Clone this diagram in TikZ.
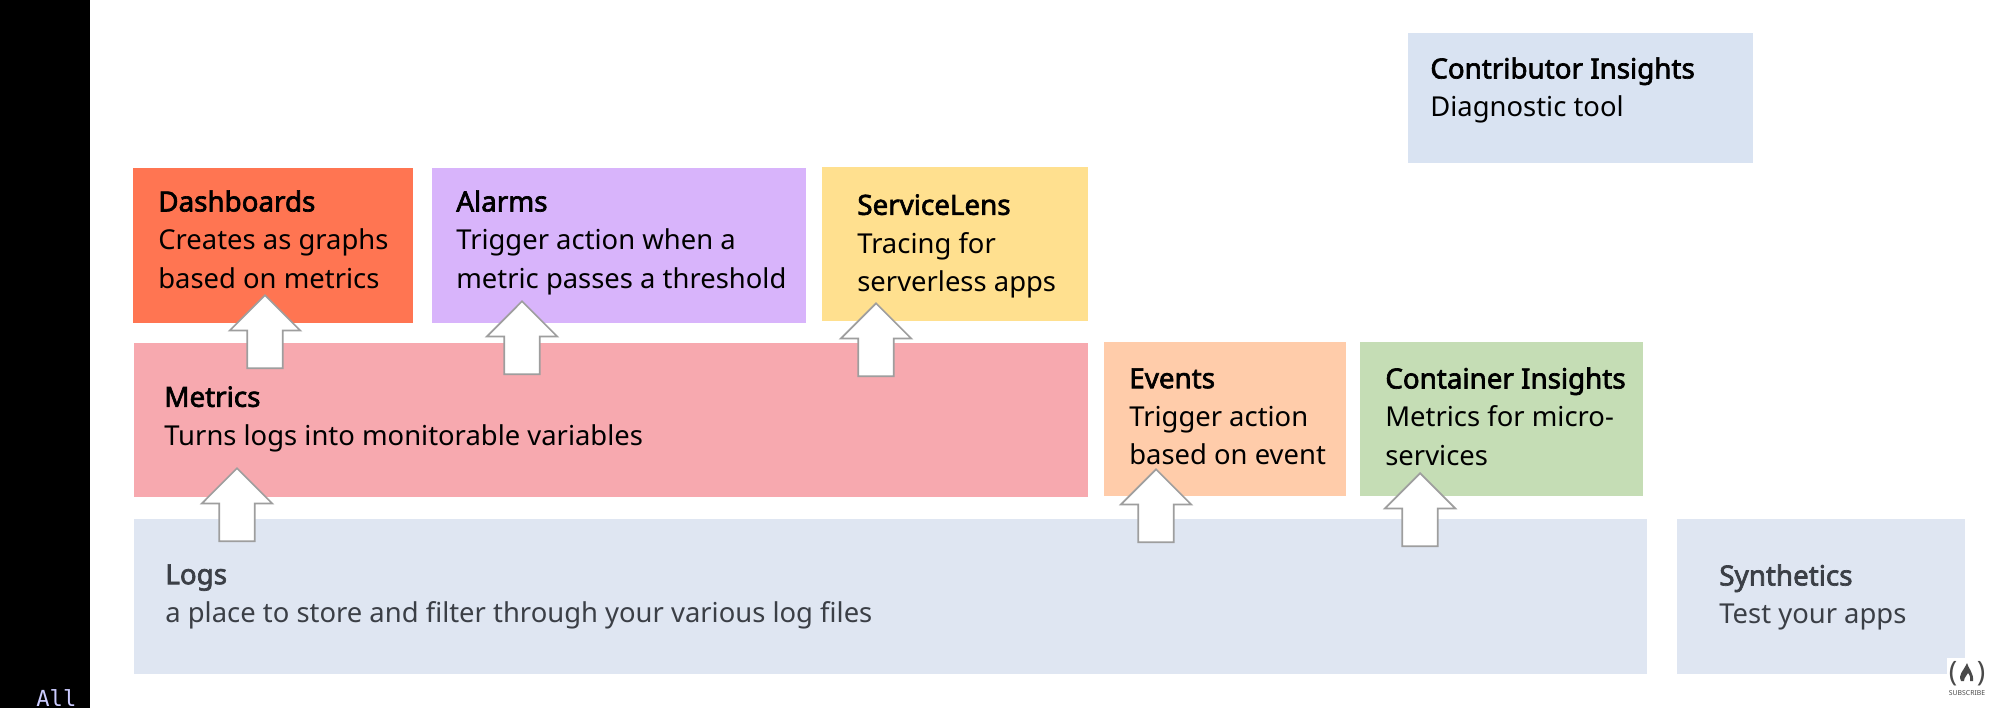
\documentclass[tikz,border=0pt]{standalone}
\usepackage{fontspec}
\setmainfont{Noto Sans}
\newfontfamily\headfnt{Noto Sans}[FakeBold=2.4]
\newfontfamily\monofnt{DejaVu Sans Mono}
\usetikzlibrary{shapes.arrows}

\definecolor{dashcol}{HTML}{FF7552}
\definecolor{alarmcol}{HTML}{D8B4FB}
\definecolor{lenscol}{HTML}{FFE08F}
\definecolor{metriccol}{HTML}{F7A9AF}
\definecolor{eventcol}{HTML}{FFCCAA}
\definecolor{contcol}{HTML}{C5DDB5}
\definecolor{logcol}{HTML}{DFE6F2}
\definecolor{insightcol}{HTML}{D9E3F2}
\definecolor{logtext}{HTML}{3B3F46}
\definecolor{logocol}{HTML}{4A4A4A}

\newcommand{\hd}[1]{{\headfnt\fontsize{15.8}{21.8}\selectfont #1}}

\tikzset{
    box/.style={inner sep=0pt, anchor=north west},
    lbl/.style={inner sep=0pt, anchor=north west, align=left, font=\fontsize{15.6}{21.8}\selectfont},
    blockarrow/.style={draw=black!38, fill=white, line width=1pt, shape=single arrow,
        shape border rotate=90, anchor=tip, inner sep=9.6pt, single arrow head extend=9.9pt,
        single arrow tip angle=90, minimum height=73*0.02cm}
}

\begin{document}
\begin{tikzpicture}[x=0.02cm,y=-0.02cm]
    \useasboundingbox (0,0) rectangle (1999,708);
    \fill[white] (0,0) rectangle (1999,708);

    % black band on the left
    \fill[black] (0,0) rectangle (90,708);
    \node[inner sep=0pt, anchor=base west, text=blue!20!white, font=\monofnt\fontsize{12.6}{14}\selectfont] (allword) at (36,706) {All};

    % draw boxes
    \node[box, fill=dashcol, minimum width=280*0.02cm, minimum height=155*0.02cm] (dashboards) at (133,168) {};
    \node[box, fill=alarmcol, minimum width=374*0.02cm, minimum height=155*0.02cm] (alarms) at (432,168) {};
    \node[box, fill=lenscol, minimum width=266*0.02cm, minimum height=154*0.02cm] (lens) at (822,167) {};
    \node[box, fill=metriccol, minimum width=954*0.02cm, minimum height=154*0.02cm] (metrics) at (134,343) {};
    \node[box, fill=eventcol, minimum width=242*0.02cm, minimum height=154*0.02cm] (events) at (1104,342) {};
    \node[box, fill=contcol, minimum width=283*0.02cm, minimum height=154*0.02cm] (container) at (1360,342) {};
    \node[box, fill=logcol, minimum width=1513*0.02cm, minimum height=155*0.02cm] (logs) at (134,519) {};
    \node[box, fill=logcol, minimum width=288*0.02cm, minimum height=155*0.02cm] (synthetics) at (1677,519) {};
    \node[box, fill=insightcol, minimum width=345*0.02cm, minimum height=130*0.02cm] (insights) at (1408,33) {};

    % draw labels
    \node[lbl] (dashtext) at (158,190) {\hd{Dashboards}\\Creates as graphs\\based on metrics};
    \node[lbl] (alarmtext) at (456,190) {\hd{Alarms}\\Trigger action when a\\metric passes a threshold};
    \node[lbl] (lenstext) at (857,194) {\hd{ServiceLens}\\Tracing for\\serverless apps};
    \node[lbl] (metrictext) at (164,386) {\hd{Metrics}\\Turns logs into monitorable variables};
    \node[lbl] (eventtext) at (1129,368) {\hd{Events}\\Trigger action\\based on event};
    \node[lbl] (conttext) at (1385,367) {\hd{Container Insights}\\Metrics for micro-\\services};
    \node[lbl, text=logtext] (logtext) at (165,564) {\hd{Logs}\\a place to store and filter through your various log files};
    \node[lbl, text=logtext] (synthtext) at (1719,564) {\hd{Synthetics}\\Test your apps};
    \node[lbl] (insighttext) at (1430,57) {\hd{Contributor Insights}\\Diagnostic tool};

    % draw block arrows
    \foreach \name/\x/\y in {adash/265/294,aalarm/522/300,alens/876/302,ametric/237/467,aevent/1156/468,acont/1420/472}
    \node[blockarrow] (\name) at (\x,\y) {};

    % subscribe logo
    \fill[white] (1947,658) rectangle (1987,697);
    \node[inner sep=0pt, text=logocol, font=\fontsize{16}{18}\selectfont] (logoleft) at (1953,674) {(};
    \node[inner sep=0pt, text=logocol, font=\fontsize{16}{18}\selectfont] (logoright) at (1981,674) {)};
    \fill[logocol] (1961,681) .. controls (1958,674) and (1963,672) .. (1967,663)
        .. controls (1968,668) and (1974,673) .. (1973,681)
        -- (1970,681) .. controls (1971,677) and (1969,674) .. (1968,673)
        .. controls (1967,676) and (1964,677) .. (1964,681) -- cycle;
    \node[inner sep=0pt, text=logocol, font=\fontsize{3.9}{5}\selectfont] (logosub) at (1967,693) {SUBSCRIBE};
\end{tikzpicture}
\end{document}
